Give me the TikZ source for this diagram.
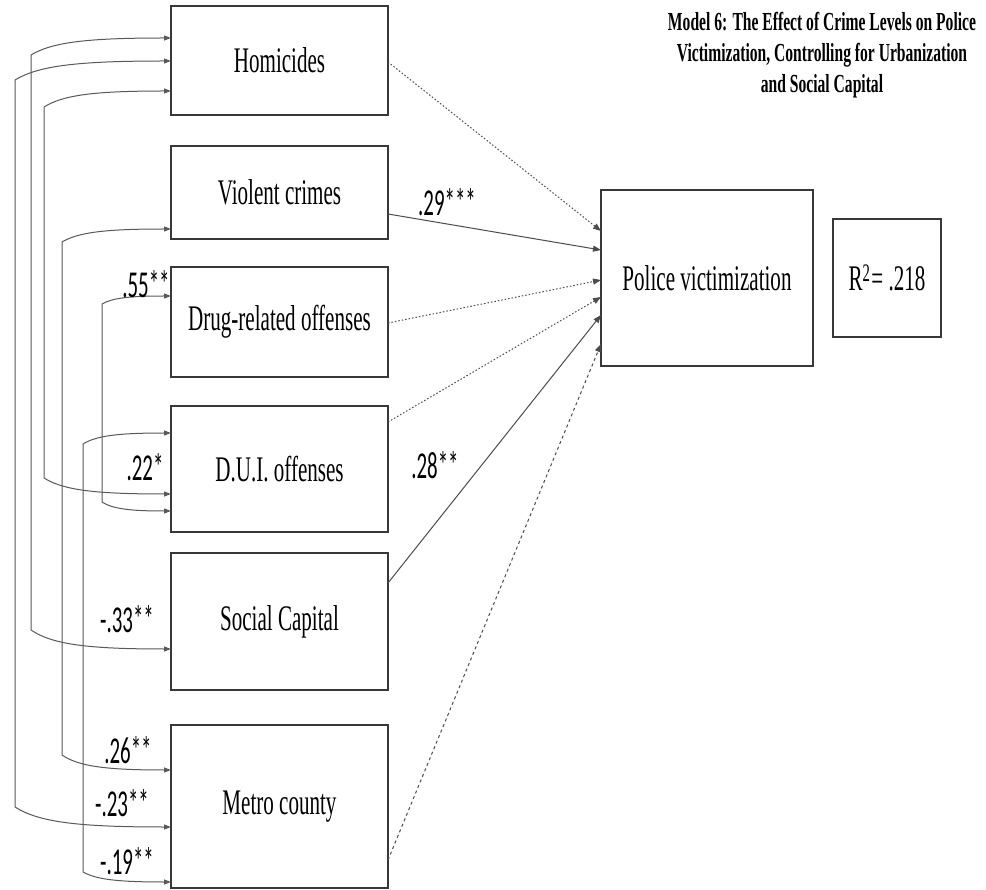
\documentclass[tikz,border=0pt]{standalone}
\usepackage{fontspec}
\setmainfont{Liberation Serif}
\newfontfamily\boxfont[FakeStretch=0.585]{Liberation Serif}
\newfontfamily\titlefont[FakeStretch=0.6]{Liberation Serif}
\newfontfamily\labfont[FakeStretch=0.55]{Carlito}
\usetikzlibrary{arrows.meta,calc}
\newcommand\corrdraw[5]{%
  \draw[corr] (#1) .. controls +({-0.6*#3},0) and +({0.15*#3},{-0.75*#4}) .. ($(#1)+({-#3},#4)$)
    -- ($(#2)+({-#3},{-#5})$) .. controls +({0.15*#3},{0.75*#5}) and +({-0.6*#3},0) .. (#2);}
\begin{document}
\begin{tikzpicture}[x=1pt,y=-1pt,
  vbox/.style={draw=black!78, line width=1.8pt, minimum width=217pt, inner sep=0pt, outer sep=0pt,
    font=\boxfont\fontsize{36}{40}\selectfont},
  corr/.style={draw=black!65, line width=1pt, {Triangle[length=7pt,width=5pt]}-{Triangle[length=7pt,width=5pt]}},
  path/.style={draw=black!70, line width=1pt, -{Triangle[length=8pt,width=6pt]}},
  dotpath/.style={path, dash pattern=on 1.5pt off 2pt},
  dashpath/.style={path, dash pattern=on 3pt off 3pt},
  coef/.style={inner sep=0pt, font=\labfont\fontsize{38}{40}\selectfont},
]
\fill[white] (0,0) rectangle (986,890);
\useasboundingbox (0,0) rectangle (986,890);

% boxes
\node[vbox, minimum height=109pt] (hom)  at (279.5,60.5)  {Homicides};
\node[vbox, minimum height=93pt]  (vio)  at (279.5,192.5) {Violent crimes};
\node[vbox, minimum height=110pt] (drug) at (279.5,322)   {Drug-related offenses};
\node[vbox, minimum height=126pt] (dui)  at (279.5,469)   {D.U.I. offenses};
\node[vbox, minimum height=137pt] (soc)  at (279.5,621.5) {Social Capital};
\node[vbox, minimum height=163pt] (met)  at (279.5,806.5) {Metro county};
\node[vbox, minimum width=212pt, minimum height=176pt] (pol) at (707,278) {Police victimization};
\node[vbox, minimum width=108pt, minimum height=118pt] (r2) at (887,278) {R\textsuperscript{2}\kern1pt= .218};

% title
\node[align=center, inner sep=0pt, font=\titlefont\bfseries\fontsize{26}{31}\selectfont] (title) at (822,55)
  {Model 6: The Effect of Crime Levels on Police\\Victimization, Controlling for Urbanization\\and Social Capital};

% correlation tips
\coordinate (h1) at ($(hom.west)+(0,-22.5)$);
\coordinate (h2) at ($(hom.west)+(0,0.5)$);
\coordinate (h3) at ($(hom.west)+(0,30.5)$);
\coordinate (v1) at ($(vio.west)+(0,36.5)$);
\coordinate (g1) at ($(drug.west)+(0,-26)$);
\coordinate (d1) at ($(dui.west)+(0,-36)$);
\coordinate (d2) at ($(dui.west)+(0,25)$);
\coordinate (d3) at ($(dui.west)+(0,42)$);
\coordinate (s1) at ($(soc.west)+(0,27.5)$);
\coordinate (m1) at ($(met.west)+(0,-36.5)$);
\coordinate (m2) at ($(met.west)+(0,20.5)$);
\coordinate (m3) at ($(met.west)+(0,75.5)$);

\corrdraw{h1}{s1}{140}{17}{19}
\corrdraw{h2}{m2}{156}{19}{20}
\corrdraw{h3}{d2}{127}{16}{16}
\corrdraw{v1}{m1}{109}{13}{15}
\corrdraw{g1}{d3}{69}{8}{9}
\corrdraw{d1}{m3}{88}{11}{10}

% paths to police victimization
\draw[dotpath]  ($(hom.east)+(0,1.5)$)   -- ($(pol.west)+(0,-47)$);
\draw[path]     ($(vio.east)+(0,21.5)$)  -- ($(pol.west)+(0,-28)$);
\draw[dotpath]  ($(drug.east)+(0,1)$)    -- ($(pol.west)+(0,2)$);
\draw[dotpath]  ($(dui.east)+(0,-47)$)   -- ($(pol.west)+(0,19)$);
\draw[path]     ($(soc.east)+(0,-38.5)$) -- ($(pol.west)+(0,37)$);
\draw[dashpath] ($(met.east)+(0,53.5)$)  -- ($(pol.west)+(0,66)$);

% coefficients
\node[coef] (c29) at (447,202) {.29***};
\node[coef] (c28) at (435,465) {.28**};
\node[coef] (c55) at (146,284) {.55**};
\node[coef] (c22) at (145,467) {.22*};
\node[coef] (c33) at (127,619) {-.33**};
\node[coef] (c26) at (128,750) {.26**};
\node[coef] (c23) at (122,803) {-.23**};
\node[coef] (c19) at (127,861) {-.19**};
\end{tikzpicture}
\end{document}
